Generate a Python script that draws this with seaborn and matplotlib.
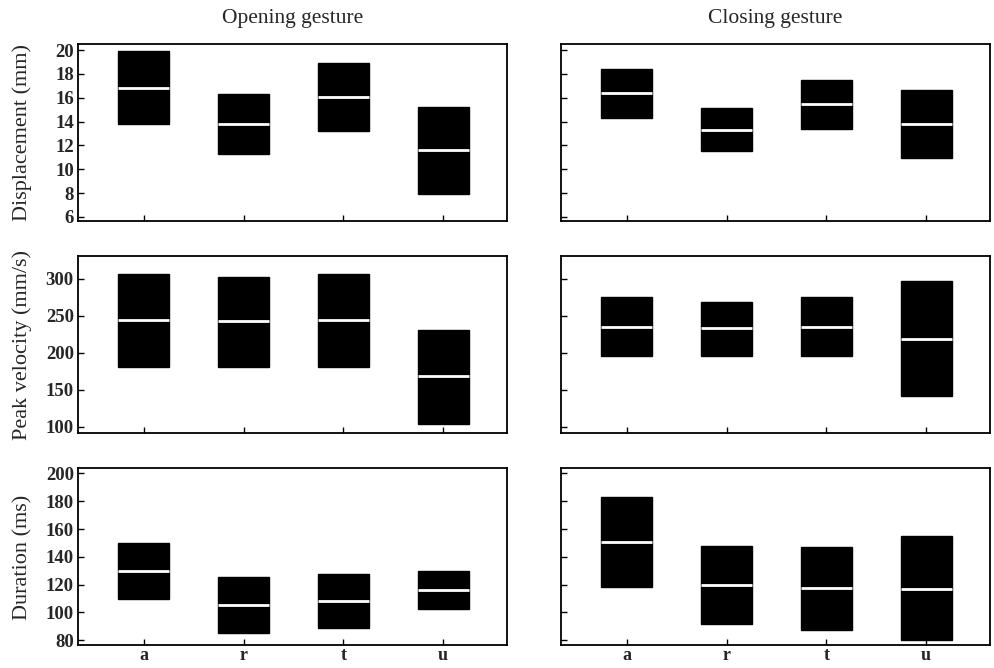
import numpy as np
import pandas as pd
import matplotlib
matplotlib.use("Agg")
import matplotlib.pyplot as plt
import seaborn as sns

categories = ["a", "r", "t", "u"]

# Displacement (mm)
disp_open_low = [13.8, 11.3, 13.2, 7.9]
disp_open_med = [16.8, 13.8, 16.05, 11.6]
disp_open_high = [19.9, 16.35, 18.9, 15.2]
disp_close_low = [14.3, 11.5, 13.4, 10.95]
disp_close_med = [16.4, 13.3, 15.5, 13.8]
disp_close_high = [18.4, 15.15, 17.5, 16.65]
# Peak velocity (mm/s)
vel_open_low = [180, 180, 180, 104]
vel_open_med = [244, 243, 244, 168]
vel_open_high = [306, 302, 306, 231]
vel_close_low = [195, 196, 195, 141]
vel_close_med = [235, 233, 234.5, 219]
vel_close_high = [275, 269, 275, 297]
# Duration (ms)
dur_open_low = [110, 85, 88.5, 102.5]
dur_open_med = [130, 105.5, 108, 116]
dur_open_high = [150, 125.5, 127.5, 130]
dur_close_low = [118.5, 91.5, 87.5, 80]
dur_close_med = [151, 120, 117.5, 117]
dur_close_high = [183, 148, 147, 155]

col_titles = ["Opening gesture", "Closing gesture"]
row_labels = ["Displacement (mm)", "Peak velocity (mm/s)", "Duration (ms)"]
row_ticks = [list(range(6, 21, 2)), list(range(100, 301, 50)), list(range(80, 201, 20))]
row_lims = [(5.66, 20.5), (91.5, 330), (76.4, 203.6)]

panels = [
    [(disp_open_low, disp_open_med, disp_open_high), (disp_close_low, disp_close_med, disp_close_high)],
    [(vel_open_low, vel_open_med, vel_open_high), (vel_close_low, vel_close_med, vel_close_high)],
    [(dur_open_low, dur_open_med, dur_open_high), (dur_close_low, dur_close_med, dur_close_high)],
]

sns.set_style("white")
plt.rcParams["font.family"] = ["Liberation Serif", "DejaVu Serif"]

fig, axes = plt.subplots(3, 2, figsize=(9.94, 6.68), dpi=100)
fig.subplots_adjust(left=0.0785, right=0.996, bottom=0.034, top=0.934, wspace=0.126, hspace=0.2)

for r in range(3):
    for c in range(2):
        ax = axes[r, c]
        low, med, high = panels[r][c]
        rows = []
        for cat, lo, me, hi in zip(categories, low, med, high):
            for v in (lo, lo, me, hi, hi):
                rows.append({"cat": cat, "val": v})
        df = pd.DataFrame(rows)
        sns.boxplot(data=df, x="cat", y="val", order=categories, ax=ax,
                    color="black", linecolor="black", width=0.51, whis=0,
                    showcaps=False, showfliers=False, linewidth=1,
                    medianprops={"color": "white", "linewidth": 2},
                    whiskerprops={"linewidth": 0})
        ax.set_xlim(-0.66, 3.64)
        ax.set_ylim(*row_lims[r])
        ax.set_yticks(row_ticks[r])
        ax.set_xlabel("")
        ax.set_ylabel("")
        for sp in ax.spines.values():
            sp.set_visible(True)
            sp.set_color("black")
            sp.set_linewidth(1.3)
        ax.tick_params(axis="both", direction="in", length=4, width=1, color="black",
                       left=True, bottom=True)
        ax.tick_params(axis="y", pad=3)
        ax.tick_params(axis="x", pad=1)
        if c == 0:
            ax.set_ylabel(row_labels[r], fontsize=16)
            ax.yaxis.set_label_coords(-0.107, 0.5)
            for lab in ax.get_yticklabels():
                lab.set_fontsize(13.5)
                lab.set_fontweight("bold")
        else:
            ax.set_yticklabels([])
        if r == 2:
            ax.set_xticks(range(len(categories)))
            ax.set_xticklabels(categories, fontsize=13, fontweight="bold")
        else:
            ax.set_xticklabels([])
        if r == 0:
            ax.set_title(col_titles[c], fontsize=15.5, pad=15)

fig.savefig("out.png", dpi=100)
